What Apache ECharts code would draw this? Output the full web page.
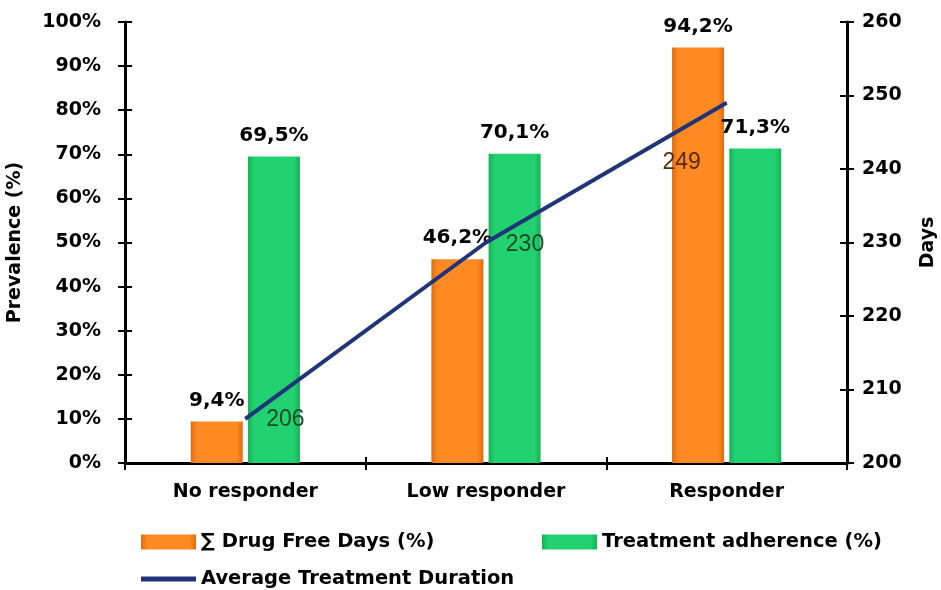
<!DOCTYPE html>
<html>
<head>
<meta charset="utf-8">
<title>Responder chart</title>
<style>
  html, body { margin: 0; padding: 0; background: #fff; }
  #container { width: 941px; height: 590px; }
</style>
</head>
<body>
<div id="container"></div>
<script src="https://cdn.jsdelivr.net/npm/echarts@6/dist/echarts.min.js"></script>
<script>
var categories = ['No responder', 'Low responder', 'Responder'];
var drugFreeDays = [9.4, 46.2, 94.2];
var adherence = [69.5, 70.1, 71.3];
var duration = [206, 230, 249];

var font = 'DejaVu Sans, sans-serif';
var pctLabel = function (p) { return String(p.value).replace('.', ',') + '%'; };

var myChart = echarts.init(document.getElementById('container'));

// line labels sit at different spots in the original
var durationLabels = [
    { offset: [40, 1], color: '#1d4a27' },
    { offset: [39, 2], color: '#1d4a27' },
    { offset: [-45, 60], color: '#5a2c08' }
];

var boldText = { color: '#000', fontSize: 19, fontWeight: 'bold', fontFamily: font };
var tickStyle = { color: '#000', width: 2 };

function legendBox(name, left, top, h) {
    return {
        data: [{ name: name, icon: 'rect' }],
        left: left, top: top,
        itemWidth: 55, itemHeight: h, itemGap: 0,
        textStyle: Object.assign({}, boldText, { fontSize: 19.5 })
    };
}

myChart.setOption({
    backgroundColor: '#fff',
    animation: false,
    textStyle: { fontFamily: font },
    grid: { left: 125, right: 94, top: 22, bottom: 127, outerBoundsMode: 'none', containLabel: false },
    legend: [
        legendBox('\u2211 Drug Free Days (%)', 136, 527, 15),
        legendBox('Treatment adherence (%)', 537, 527, 15),
        legendBox('Average Treatment Duration', 136, 564, 5)
    ],
    xAxis: [{
        type: 'category',
        data: categories,
        axisLine: { lineStyle: { color: '#000', width: 3 } },
        axisTick: { show: true, length: 7, lineStyle: tickStyle },
        axisLabel: Object.assign({ margin: 20 }, boldText)
    }, {
        type: 'category',
        data: categories,
        position: 'bottom',
        axisLine: { show: false },
        axisTick: { show: true, inside: true, length: 6, lineStyle: tickStyle },
        axisLabel: { show: false }
    }],
    yAxis: [{
        type: 'value', min: 0, max: 100, interval: 10,
        name: 'Prevalence (%)', nameLocation: 'middle', nameGap: 100, nameRotate: 90,
        nameTextStyle: boldText,
        axisLine: { show: true, lineStyle: { color: '#000', width: 3 } },
        axisTick: { show: true, length: 7, lineStyle: tickStyle },
        axisLabel: Object.assign({ formatter: '{value}%', margin: 24 }, boldText),
        splitLine: { show: false }
    }, {
        type: 'value', min: 200, max: 260, interval: 10,
        position: 'right',
        name: 'Days', nameLocation: 'middle', nameGap: 72, nameRotate: 90,
        nameTextStyle: boldText,
        axisLine: { show: true, lineStyle: { color: '#000', width: 3 } },
        axisTick: { show: true, length: 7, lineStyle: tickStyle },
        axisLabel: Object.assign({ margin: 15 }, boldText),
        splitLine: { show: false }
    }, {
        // inner half of the crossing ticks
        type: 'value', min: 0, max: 100, interval: 10, position: 'left',
        axisLine: { show: false }, axisLabel: { show: false }, splitLine: { show: false },
        axisTick: { show: true, inside: true, length: 7, lineStyle: tickStyle }
    }, {
        type: 'value', min: 200, max: 260, interval: 10, position: 'right',
        axisLine: { show: false }, axisLabel: { show: false }, splitLine: { show: false },
        axisTick: { show: true, inside: true, length: 7, lineStyle: tickStyle }
    }],
    series: [{
        name: '\u2211 Drug Free Days (%)',
        type: 'bar',
        data: drugFreeDays,
        barWidth: 52,
        barGap: '10%',
        itemStyle: {
            color: new echarts.graphic.LinearGradient(0, 0, 1, 0, [
                { offset: 0, color: '#e06c0c' },
                { offset: 0.12, color: '#ff8a24' },
                { offset: 0.88, color: '#ff8a24' },
                { offset: 1, color: '#e06c0c' }
            ])
        },
        label: Object.assign({ show: true, position: 'top', distance: 11, formatter: pctLabel }, boldText, { fontSize: 20 })
    }, {
        name: 'Treatment adherence (%)',
        type: 'bar',
        data: adherence,
        barWidth: 52,
        itemStyle: {
            color: new echarts.graphic.LinearGradient(0, 0, 1, 0, [
                { offset: 0, color: '#15b358' },
                { offset: 0.12, color: '#22d170' },
                { offset: 0.88, color: '#22d170' },
                { offset: 1, color: '#15b358' }
            ])
        },
        label: Object.assign({ show: true, position: 'top', distance: 11, formatter: pctLabel }, boldText, { fontSize: 20 })
    }, {
        name: 'Average Treatment Duration',
        type: 'line',
        yAxisIndex: 1,
        data: duration.map(function (v, i) {
            return { value: v, label: durationLabels[i] };
        }),
        symbol: 'circle',
        symbolSize: 1,
        lineStyle: { color: '#1f3479', width: 4 },
        itemStyle: { color: '#1f3479' },
        label: {
            show: true, position: 'inside', fontSize: 23,
            fontFamily: 'Liberation Sans, Arial, sans-serif', fontWeight: 'normal'
        },
        z: 5
    }]
});
</script>
</body>
</html>
